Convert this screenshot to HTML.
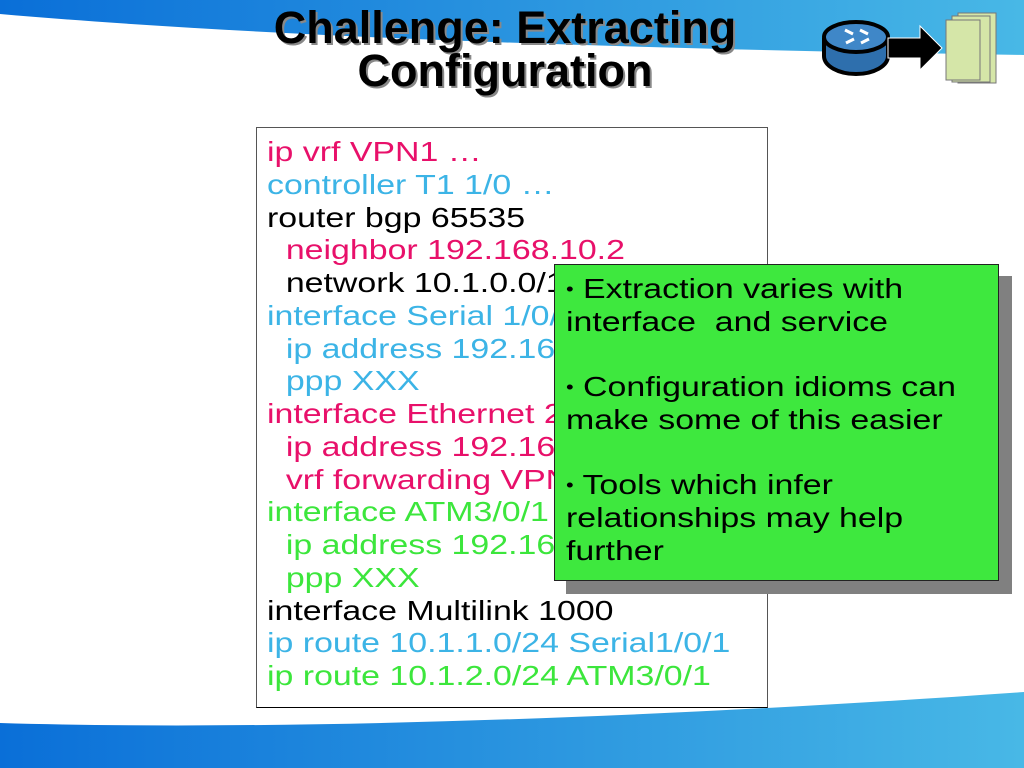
<!DOCTYPE html>
<html><head><meta charset="utf-8"><style>
body{margin:0;width:1024px;height:768px;overflow:hidden;background:#fff;position:relative;font-family:"Liberation Sans",Arial,sans-serif}
.abs{position:absolute}
.title{left:150px;width:710px;top:6px;text-align:center;font-weight:bold;font-size:45px;line-height:43px;color:#000;text-shadow:2px 2px 0 #888}
.code{left:256px;top:127px;width:512px;height:579px;border:1px solid #555;border-bottom-color:#000;background:#fff}
.code div{font-size:28px;line-height:32.75px;height:32.75px;white-space:pre;padding-left:10px;transform:scaleX(1.21);transform-origin:10px 0}
.m{color:#e8106a}.c{color:#3cb4e6}.k{color:#000}.g{color:#3ce63c}
.shadow{left:566px;top:276px;width:446px;height:318px;background:#808080}
.green{left:554px;top:264px;width:443px;height:315px;background:#3ee83e;border:1px solid #222}
.green div{font-size:28px;line-height:32.7px;height:32.7px;padding-left:11px;color:#000;white-space:pre;transform:scaleX(1.21);transform-origin:11px 0}
.b{font-size:18px;vertical-align:top}
</style></head><body>
<svg class="abs" style="left:0;top:0" width="1024" height="768">
<defs><linearGradient id="bg" x1="0" x2="1" y1="0" y2="0"><stop offset="0" stop-color="#0a6fd8"/><stop offset="1" stop-color="#48b8e6"/></linearGradient></defs>
<path d="M0 0 H1024 V55 C700 50 300 40 0 14 Z" fill="url(#bg)"/>
<path d="M0 723 C300 732 700 715 1024 692 V768 H0 Z" fill="url(#bg)"/>
<g>
<ellipse cx="856" cy="56" rx="32" ry="18" fill="#2e6fad" stroke="#000" stroke-width="4"/>
<rect x="824" y="38" width="64" height="18" fill="#2e6fad"/>
<path d="M824 38 V56" stroke="#000" stroke-width="4"/><path d="M888 38 V56" stroke="#000" stroke-width="4"/>
<ellipse cx="856" cy="37" rx="32" ry="15" fill="#3f87c8" stroke="#000" stroke-width="4"/>
<path d="M845 30 l8 4 M860 30 l8 4 M846 43 l8 -4 M861 43 l8 -4" stroke="#fff" stroke-width="3"/>
<rect x="958" y="13" width="38" height="70" fill="#d5e6a8" stroke="#777"/>
<rect x="952" y="16" width="38" height="66" fill="#d5e6a8" stroke="#777"/>
<path d="M946 20 h34 v60 h-34 z" fill="#d5e6a8" stroke="#777"/>
<path d="M888 38 h32 v-12 l22 22 l-22 22 v-12 h-32 z" fill="#000" stroke="#fff" stroke-width="1"/>
</g>
</svg>
<div class="abs title">Challenge: Extracting<br>Configuration</div>
<div class="abs code" style="padding-top:8px;box-sizing:border-box;height:581px">
<div class="m">ip vrf VPN1 …</div>
<div class="c">controller T1 1/0 …</div>
<div class="k">router bgp 65535</div>
<div class="m">  neighbor 192.168.10.2</div>
<div class="k">  network 10.1.0.0/16</div>
<div class="c">interface Serial 1/0/1</div>
<div class="c">  ip address 192.168.1.1</div>
<div class="c">  ppp XXX</div>
<div class="m">interface Ethernet 2/0</div>
<div class="m">  ip address 192.168.2.1</div>
<div class="m">  vrf forwarding VPN1</div>
<div class="g">interface ATM3/0/1</div>
<div class="g">  ip address 192.168.3.1</div>
<div class="g">  ppp XXX</div>
<div class="k">interface Multilink 1000</div>
<div class="c">ip route 10.1.1.0/24 Serial1/0/1</div>
<div class="g">ip route 10.1.2.0/24 ATM3/0/1</div>
</div>
<div class="abs shadow"></div>
<div class="abs green" style="padding-top:8px;box-sizing:border-box;height:317px;width:445px">
<div><span class="b">•</span> Extraction varies with</div>
<div>interface  and service</div>
<div> </div>
<div><span class="b">•</span> Configuration idioms can</div>
<div>make some of this easier</div>
<div> </div>
<div><span class="b">•</span> Tools which infer</div>
<div>relationships may help</div>
<div>further</div>
</div>
</body></html>
